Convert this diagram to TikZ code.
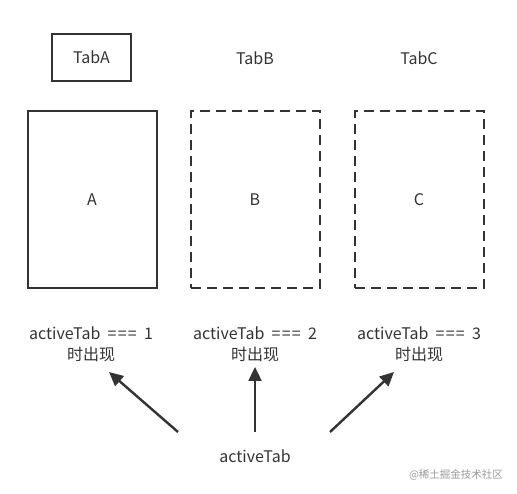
\documentclass[tikz,border=0pt]{standalone}
\usepackage{fontspec}
\setmainfont{Noto Sans CJK SC}
\usetikzlibrary{arrows.meta}
\definecolor{ink}{HTML}{333333}
\begin{document}
\begin{tikzpicture}[x=1pt,y=-1pt,
  lbl/.style={text=ink,font=\fontsize{16}{18}\selectfont,inner sep=0pt},
  tabbox/.style={draw=ink,line width=2.2pt,minimum width=79pt,minimum height=47pt,inner sep=0pt},
  panel/.style={draw=ink,line width=2.2pt,minimum width=129pt,minimum height=177pt,inner sep=0pt},
  dpanel/.style={panel,dash pattern=on 10pt off 6pt},
  arr/.style={draw=ink,line width=2.4pt,-{Triangle[length=14pt,width=13pt]}}]
\useasboundingbox (0,0) rectangle (517,494);
\newcommand{\eqs}{\hspace{0.45em}=\hspace{0.08em}=\hspace{0.08em}=\hspace{0.45em}}
% tabs
\node[tabbox,lbl] (tabA) at (91.5,57.5) {TabA};
\node[lbl] (tabB) at (255,58) {TabB};
\node[lbl] (tabC) at (419,58) {TabC};
% panels
\node[panel] (pA) at (92.5,199.5) {};
\node[dpanel] (pB) at (255.5,199.5) {};
\node[dpanel] (pC) at (419.5,199.5) {};
\node[lbl] (tA) at (92,200) {A};
\node[lbl] (tB) at (255,200) {B};
\node[lbl] (tC) at (419,200) {C};
% conditions
\node[lbl] (c1) at (91,333) {activeTab\eqs 1};
\node[lbl] (d1) at (91,354) {时出现};
\node[lbl] (c2) at (255,333) {activeTab\eqs 2};
\node[lbl] (d2) at (255,354) {时出现};
\node[lbl] (c3) at (419,333) {activeTab\eqs 3};
\node[lbl] (d3) at (419,354) {时出现};
% source
\node[lbl] (src) at (255,456) {activeTab};
\coordinate (s1) at (178,432);
\coordinate (s2) at (255,432);
\coordinate (s3) at (330,432);
\coordinate (e1) at (109,372);
\coordinate (e2) at (255,367);
\coordinate (e3) at (394,372);
\draw[arr] (s1) -- (e1);
\draw[arr] (s2) -- (e2);
\draw[arr] (s3) -- (e3);
% watermark
\node[text=black!40,font=\fontsize{10.5}{12}\selectfont,inner sep=0pt] (wm) at (456,475) {@稀土掘金技术社区};
\end{tikzpicture}
\end{document}
